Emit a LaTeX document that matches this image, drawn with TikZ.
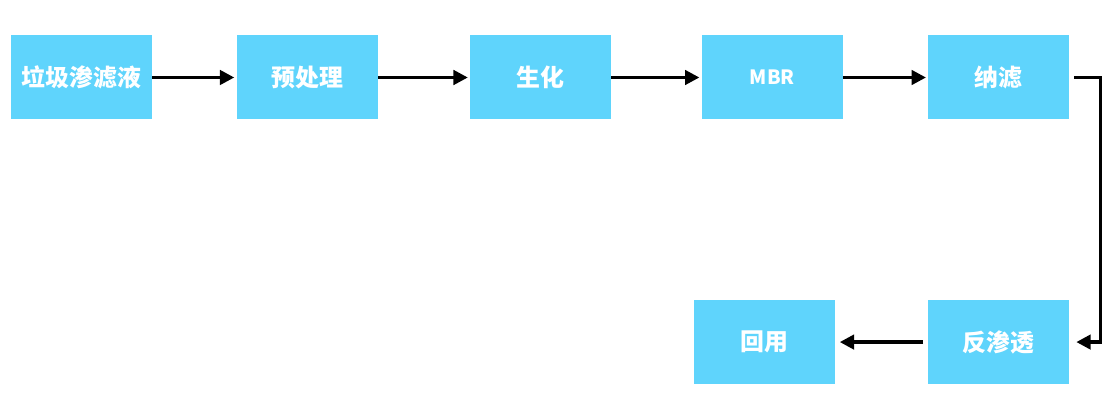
\documentclass[tikz,border=0pt]{standalone}
\usepackage{fontspec}
\newfontfamily\cjk{Noto Sans CJK SC}
\usetikzlibrary{positioning,arrows.meta,calc}
\definecolor{FlowCyan}{HTML}{5FD4FC}

\begin{document}
\begin{tikzpicture}[
    font=\cjk\bfseries\fontsize{17}{20}\selectfont,
    stage/.style={
      fill=FlowCyan, draw=none, text=white, align=center,
      minimum width=3.525cm, minimum height=2.1cm, inner sep=0pt
    },
    arr/.style={-{Triangle[length=3.6mm,width=3.6mm]}, line width=2.4pt, color=black}
  ]
  % margins of the reference
  \useasboundingbox (-2.0375,1.9375) rectangle (25.9625,-8.4375);
  \node[stage] (raw) {垃圾渗滤液};
  \node[stage, right=2.1cm of raw] (pre) {预处理};
  \node[stage, right=2.3cm of pre] (bio) {生化};
  \node[stage, right=2.25cm of bio] (mbr) {\fontsize{14}{17}\selectfont MBR};
  \node[stage, right=2.125cm of mbr] (nf) {纳滤};
  \node[stage, below=4.5cm of nf] (ro) {反渗透};
  \node[stage, left=2.325cm of ro] (reuse) {回用};
  \coordinate[right=0.78cm of nf.east] (turn);
  \draw[arr] (raw) -- ([xshift=-0.5mm]pre.west);
  \draw[arr] (pre) -- ([xshift=-0.5mm]bio.west);
  \draw[arr] (bio) -- ([xshift=-0.5mm]mbr.west);
  \draw[arr] (mbr) -- ([xshift=-0.5mm]nf.west);
  \draw[arr] ([xshift=1.2mm]nf.east) -- (turn) |- ([xshift=1.7mm]ro.east);
  \draw[arr] ([xshift=-1.2mm]ro.west) -- ([xshift=1.2mm]reuse.east);
\end{tikzpicture}
\end{document}
